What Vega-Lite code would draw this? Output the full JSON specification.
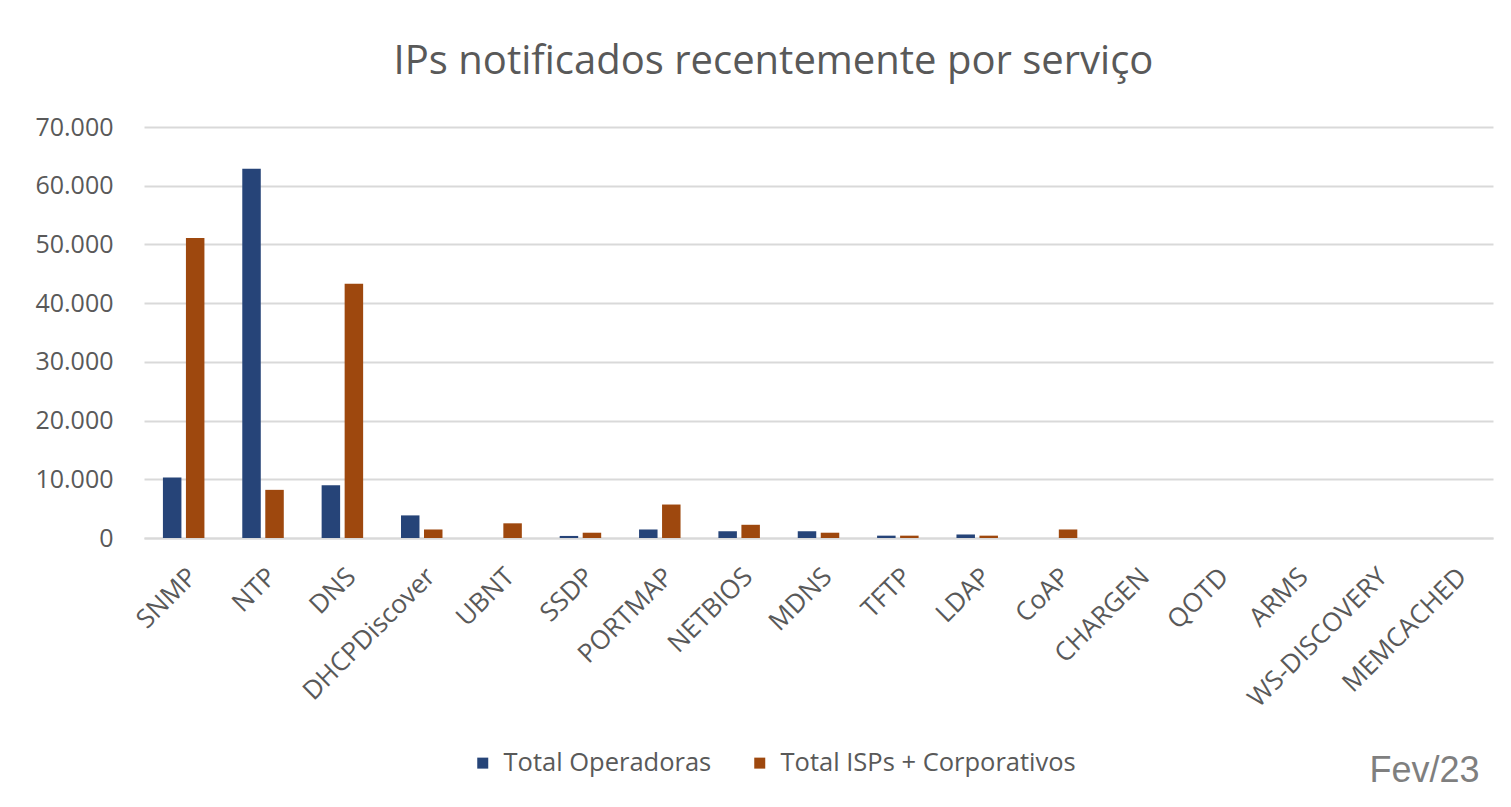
{
  "$schema": "https://vega.github.io/schema/vega-lite/v6.json",
  "autosize": {"type": "none"},
  "width": 1349,
  "height": 411,
  "padding": {"left": 144, "top": 127, "right": 18, "bottom": 269},
  "background": "#ffffff",
  "title": {
    "text": "IPs notificados recentemente por serviço",
    "anchor": "middle",
    "frame": "group",
    "dx": -45,
    "offset": 1,
    "baseline": "alphabetic",
    "font": "Open Sans",
    "fontSize": 40,
    "fontWeight": "normal",
    "color": "#595959"
  },
  "config": {
    "locale": {"number": {"decimal": ",", "thousands": ".", "grouping": [3], "currency": ["R$", ""]}},
    "view": {"stroke": null},
    "font": "Open Sans"
  },
  "data": {
    "values": [
      {"servico": "SNMP", "serie": "Total Operadoras", "ips": 10300},
      {"servico": "SNMP", "serie": "Total ISPs + Corporativos", "ips": 51100},
      {"servico": "NTP", "serie": "Total Operadoras", "ips": 62900},
      {"servico": "NTP", "serie": "Total ISPs + Corporativos", "ips": 8200},
      {"servico": "DNS", "serie": "Total Operadoras", "ips": 9000},
      {"servico": "DNS", "serie": "Total ISPs + Corporativos", "ips": 43300},
      {"servico": "DHCPDiscover", "serie": "Total Operadoras", "ips": 3850},
      {"servico": "DHCPDiscover", "serie": "Total ISPs + Corporativos", "ips": 1450},
      {"servico": "UBNT", "serie": "Total Operadoras", "ips": 0},
      {"servico": "UBNT", "serie": "Total ISPs + Corporativos", "ips": 2500},
      {"servico": "SSDP", "serie": "Total Operadoras", "ips": 350},
      {"servico": "SSDP", "serie": "Total ISPs + Corporativos", "ips": 900},
      {"servico": "PORTMAP", "serie": "Total Operadoras", "ips": 1450},
      {"servico": "PORTMAP", "serie": "Total ISPs + Corporativos", "ips": 5700},
      {"servico": "NETBIOS", "serie": "Total Operadoras", "ips": 1150},
      {"servico": "NETBIOS", "serie": "Total ISPs + Corporativos", "ips": 2250},
      {"servico": "MDNS", "serie": "Total Operadoras", "ips": 1150},
      {"servico": "MDNS", "serie": "Total ISPs + Corporativos", "ips": 900},
      {"servico": "TFTP", "serie": "Total Operadoras", "ips": 400},
      {"servico": "TFTP", "serie": "Total ISPs + Corporativos", "ips": 400},
      {"servico": "LDAP", "serie": "Total Operadoras", "ips": 600},
      {"servico": "LDAP", "serie": "Total ISPs + Corporativos", "ips": 400},
      {"servico": "CoAP", "serie": "Total Operadoras", "ips": 0},
      {"servico": "CoAP", "serie": "Total ISPs + Corporativos", "ips": 1450},
      {"servico": "CHARGEN", "serie": "Total Operadoras", "ips": 0},
      {"servico": "CHARGEN", "serie": "Total ISPs + Corporativos", "ips": 0},
      {"servico": "QOTD", "serie": "Total Operadoras", "ips": 0},
      {"servico": "QOTD", "serie": "Total ISPs + Corporativos", "ips": 0},
      {"servico": "ARMS", "serie": "Total Operadoras", "ips": 0},
      {"servico": "ARMS", "serie": "Total ISPs + Corporativos", "ips": 0},
      {"servico": "WS-DISCOVERY", "serie": "Total Operadoras", "ips": 0},
      {"servico": "WS-DISCOVERY", "serie": "Total ISPs + Corporativos", "ips": 0},
      {"servico": "MEMCACHED", "serie": "Total Operadoras", "ips": 0},
      {"servico": "MEMCACHED", "serie": "Total ISPs + Corporativos", "ips": 0}
    ]
  },
  "mark": {"type": "bar"},
  "encoding": {
    "x": {
      "field": "servico",
      "type": "nominal",
      "sort": null,
      "scale": {"paddingInner": 0.477, "paddingOuter": 0.2385},
      "axis": {
        "title": "Fev/23",
        "titleX": 1335,
        "titleY": 243,
        "titleAlign": "right",
        "titleBaseline": "alphabetic",
        "titleFont": "Liberation Sans",
        "titleFontSize": 36,
        "titleFontWeight": "normal",
        "titleColor": "#7f7f7f",
        "labelAngle": -45,
        "labelAlign": "right",
        "labelBaseline": "top",
        "labelPadding": 25,
        "labelFont": "Open Sans",
        "labelFontSize": 26,
        "labelColor": "#595959",
        "ticks": false,
        "domainColor": "#d9d9d9",
        "domainWidth": 2,
        "labelOverlap": false,
        "labelBound": false,
        "labelLimit": 400
      }
    },
    "xOffset": {
      "field": "serie",
      "type": "nominal",
      "sort": ["Total Operadoras", "Total ISPs + Corporativos"],
      "scale": {"paddingInner": 0.196, "paddingOuter": 0}
    },
    "y": {
      "field": "ips",
      "type": "quantitative",
      "scale": {"domain": [0, 70000], "nice": false},
      "axis": {
        "title": null,
        "values": [0, 10000, 20000, 30000, 40000, 50000, 60000, 70000],
        "format": ",d",
        "ticks": false,
        "domain": false,
        "labelPadding": 31,
        "labelFont": "Open Sans",
        "labelFontSize": 25,
        "labelColor": "#595959",
        "gridColor": "#d9d9d9",
        "gridWidth": 2
      }
    },
    "color": {
      "field": "serie",
      "type": "nominal",
      "sort": ["Total Operadoras", "Total ISPs + Corporativos"],
      "scale": {"domain": ["Total Operadoras", "Total ISPs + Corporativos"], "range": ["#264478", "#9E480E"]},
      "legend": {
        "title": null,
        "orient": "none",
        "direction": "horizontal",
        "legendX": 326,
        "legendY": 623,
        "symbolType": "square",
        "symbolSize": 121,
        "symbolStrokeWidth": 0,
        "labelFont": "Open Sans",
        "labelFontSize": 25.5,
        "labelColor": "#595959",
        "labelOffset": 8,
        "labelLimit": 400,
        "columnPadding": 35
      }
    }
  }
}
